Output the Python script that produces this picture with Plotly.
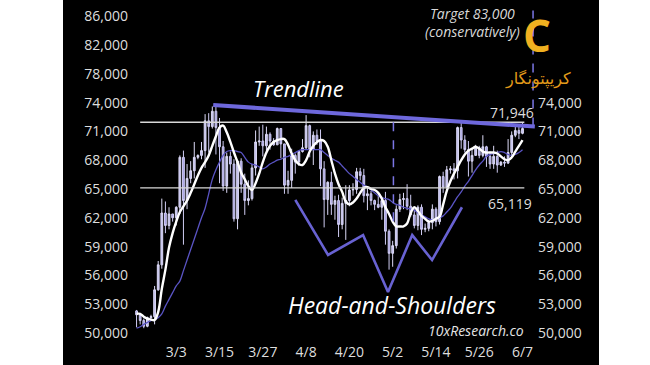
import pandas as pd
import plotly.graph_objects as go

# ---------------- data (prices in thousands USD) ----------------
dates = pd.date_range("2024-02-21", "2024-06-07", freq="D")

opens = [52.3, 51.9, 51.3, 50.7, 51.6, 51.7, 54.5, 57.1, 62.5,
         61.2, 62.4, 62.0, 63.1, 68.3, 63.8, 66.1, 66.9, 68.3, 68.5, 69.0, 72.1, 71.5, 73.1, 71.4, 69.4, 65.3, 68.4, 67.6, 61.9, 67.9, 65.5, 63.8, 64.0, 67.2, 69.9, 70.0, 69.5, 70.7, 70.0, 69.6,
         71.3, 69.7, 65.4, 65.9, 68.5, 67.8, 68.9, 69.3, 71.6, 69.1, 70.6, 70.0, 67.1, 63.9, 65.7, 63.4, 63.8, 61.3, 63.5, 63.8, 64.9, 64.95, 66.8, 66.4, 64.3, 64.5, 63.8, 63.4, 63.1, 63.8,
         60.6, 58.3, 59.1, 62.9, 63.9, 64.0, 63.2, 62.3, 61.2, 63.1, 60.8, 60.9, 61.5, 62.9, 61.6, 66.3, 65.2, 67.0, 67.1, 66.9, 71.4, 70.1, 69.1, 67.9, 68.5, 69.3, 68.5, 69.4, 68.4, 67.6, 68.4,
         67.5, 67.8, 67.7, 68.8, 70.6, 71.1, 70.8]
highs = [52.4, 52.0, 51.5, 51.7, 51.9, 54.9, 57.5, 64.0, 63.7,
         63.1, 62.4, 63.2, 68.5, 69.0, 67.6, 67.9, 69.9, 68.6, 69.9, 72.8, 72.9, 73.6, 73.8, 72.4, 70.0, 68.8, 68.9, 68.1, 68.0, 68.2, 66.6, 65.9, 67.6, 71.1, 71.5, 71.7, 71.5, 70.9, 70.3, 71.4,
         71.3, 69.7, 66.9, 69.2, 68.7, 69.0, 70.2, 72.7, 71.7, 71.0, 71.2, 71.2, 67.9, 65.8, 66.8, 64.3, 64.4, 64.1, 65.4, 65.4, 65.6, 67.2, 67.2, 67.1, 65.3, 64.8, 63.9, 64.3, 64.2, 64.7,
         60.8, 59.6, 63.3, 64.5, 64.6, 65.5, 64.4, 62.9, 63.3, 63.4, 61.4, 61.8, 63.4, 63.1, 66.4, 66.8, 67.4, 67.4, 67.7, 71.5, 71.9, 70.6, 70.0, 69.2, 69.6, 69.5, 70.6, 69.5, 68.9, 69.5, 69.0,
         67.9, 68.4, 70.2, 71.0, 71.7, 71.6, 71.9]
lows = [50.6, 50.9, 50.5, 50.6, 51.3, 50.9, 54.4, 56.7, 60.4,
        60.8, 61.6, 61.2, 62.4, 59.2, 62.9, 65.6, 66.1, 68.1, 68.1, 67.2, 68.8, 71.3, 68.6, 65.6, 64.8, 64.6, 66.6, 61.6, 60.8, 64.6, 62.3, 63.3, 63.8, 66.4, 69.5, 68.4, 68.9, 69.1, 69.5, 69.6,
        68.2, 64.5, 64.5, 65.1, 66.6, 67.4, 68.8, 69.1, 68.3, 67.5, 69.6, 65.3, 61.0, 62.3, 62.3, 61.8, 60.0, 60.8, 59.7, 63.2, 64.3, 64.5, 65.9, 63.6, 62.8, 63.3, 62.8, 63.0, 61.8, 59.2,
        56.6, 56.9, 58.8, 62.6, 62.9, 62.8, 62.1, 60.9, 60.7, 60.2, 60.5, 60.6, 60.8, 61.1, 61.3, 64.6, 65.1, 66.6, 66.0, 66.1, 69.2, 68.8, 66.3, 66.7, 68.5, 68.2, 68.3, 67.3, 67.1, 67.1, 66.7,
        67.4, 67.3, 67.6, 68.5, 70.4, 70.2, 70.7]
closes = [51.9, 51.3, 50.7, 51.6, 51.7, 54.5, 57.1, 62.5, 61.2,
          62.4, 62.0, 63.1, 68.3, 63.8, 66.1, 66.9, 68.3, 68.5, 69.0, 72.1, 71.5, 73.1, 71.4, 69.4, 65.3, 68.4, 67.6, 61.9, 67.9, 65.5, 63.8, 64.0, 67.2, 69.9, 70.0, 69.5, 70.7, 70.0, 69.6, 71.3,
          69.7, 65.4, 65.9, 68.5, 67.8, 68.9, 69.3, 71.6, 69.1, 70.6, 70.0, 67.1, 63.9, 65.7, 63.4, 63.8, 61.3, 63.5, 63.8, 64.9, 64.95, 66.8, 66.4, 64.3, 64.5, 63.8, 63.4, 63.1, 63.8, 60.6,
          58.3, 59.1, 62.9, 63.9, 64.0, 63.2, 62.3, 61.2, 63.1, 60.8, 60.9, 61.5, 62.9, 61.6, 66.3, 65.2, 67.0, 67.1, 66.9, 71.4, 70.1, 69.1, 67.9, 68.5, 69.3, 68.5, 69.4, 68.4, 67.6, 68.4, 67.5,
          67.8, 67.7, 68.8, 70.6, 71.1, 70.8, 71.3]

fast_ma = [52.0, 52.0, 51.7, 51.5, 51.4, 51.35, 52.2, 54.6, 56.6,
           58.9, 60.4, 61.6, 62.6, 63.2, 63.8, 64.6, 65.5, 66.4, 67.2, 67.8, 68.5, 69.5, 70.5, 71.4, 71.6, 70.9, 69.9, 68.8, 67.8, 66.7, 66.0, 65.3, 64.9, 65.6, 66.6, 67.8, 68.8, 69.5, 69.9, 70.1,
           70.2, 70.2, 69.6, 68.7, 68.0, 67.6, 67.5, 68.0, 68.9, 69.5, 69.9, 70.1, 70.0, 69.4, 68.0, 66.6, 65.5, 64.7, 63.7, 63.4, 63.6, 64.0, 64.6, 65.1, 65.2, 65.0, 64.9, 64.6, 64.0, 63.1,
           62.4, 61.6, 61.1, 61.1, 61.1, 61.4, 62.5, 63.1, 62.7, 62.2, 61.9, 61.6, 61.7, 61.9, 62.1, 63.4, 64.8, 65.8, 66.6, 67.3, 68.0, 68.6, 69.0, 69.2, 69.4, 69.2, 68.9, 68.8, 68.8, 68.8, 68.7,
           68.4, 68.1, 68.0, 68.3, 68.9, 69.5, 70.1]
slow_ma = [50.5, 50.65, 50.9, 51.1, 51.3, 51.4, 51.6, 52.0, 52.8,
           53.5, 54.2, 54.9, 55.4, 56.5, 57.6, 58.7, 59.8, 60.9, 62.0, 63.0, 64.5, 66.0, 67.0, 67.8, 68.5, 68.9, 69.0, 69.0, 68.9, 68.8, 68.3, 67.8, 67.6, 67.5, 67.3, 67.1, 67.3, 67.6, 67.8, 68.0,
           68.1, 68.3, 68.4, 68.6, 68.8, 69.0, 69.1, 69.1, 69.1, 69.1, 69.1, 69.1, 68.8, 68.5, 68.2, 68.0, 67.8, 67.4, 67.0, 66.6, 66.3, 66.0, 65.7, 65.4, 65.2, 64.9, 64.6, 64.3, 64.1, 64.0,
           63.9, 63.6, 63.4, 63.3, 63.1, 63.0, 62.9, 62.8, 62.5, 62.3, 62.1, 61.9, 61.8, 61.9, 62.0, 62.2, 62.6, 63.0, 63.6, 64.2, 64.7, 65.3, 65.8, 66.4, 67.0, 67.5, 67.9, 68.4, 68.6, 68.7, 68.8,
           68.9, 68.8, 68.6, 68.5, 68.6, 68.8, 69.1]

level_dates = ["2024-02-22", "2024-06-07 12:00"]
resistance = 71.946
support = 65.119

trend_dates = ["2024-03-13 06:00", "2024-06-10 10:00"]
trend_vals = [73.75, 71.5]

hs_dates = ["2024-04-05", "2024-04-14 02:00", "2024-04-23 19:00", "2024-04-30 17:00",
            "2024-05-07 10:00", "2024-05-12 22:00", "2024-05-21 05:00"]
hs_vals = [63.86, 58.13, 60.2, 54.27, 60.2, 57.6, 63.1]

head_date = "2024-05-02 05:00"
head_vals = [71.946, 61.1]
target_date = "2024-06-09 22:00"
target_vals = [71.5, 83.6]

tick_vals = [50, 53, 56, 59, 62, 65, 68, 71, 74, 77, 80, 83]
tick_text = ["50,000", "53,000", "56,000", "59,000", "62,000", "65,000", "68,000",
             "71,000", "74,000", "78,000", "82,000", "86,000"]
right_tick_vals = [50, 53, 56, 59, 62, 65, 68, 71, 74]
right_tick_text = ["50,000", "53,000", "56,000", "59,000", "62,000", "65,000", "68,000",
                   "71,000", "74,000"]
x_tick_vals = ["2024-03-03", "2024-03-15", "2024-03-27", "2024-04-08", "2024-04-20",
               "2024-05-02", "2024-05-14", "2024-05-26", "2024-06-07"]
x_tick_text = ["3/3", "3/15", "3/27", "4/8", "4/20", "5/2", "5/14", "5/26", "6/7"]

# ---------------- figure ----------------
W, H = 650, 365
L, R, T, B = 131, 115, 0, 25
pw = W - L - R
ph = H - T - B

fig = go.Figure()

fig.add_trace(go.Candlestick(
    x=dates, open=opens, high=highs, low=lows, close=closes,
    increasing=dict(line=dict(color="#dcdaf6", width=1), fillcolor="#c0bdee"),
    decreasing=dict(line=dict(color="#cfccf2", width=1), fillcolor="#a29de2"),
    whiskerwidth=0, showlegend=False, hoverinfo="skip"))

fig.add_trace(go.Scatter(x=dates, y=slow_ma, mode="lines",
                         line=dict(color="#5a54c4", width=1.3, shape="spline"), showlegend=False))
fig.add_trace(go.Scatter(x=dates, y=fast_ma, mode="lines",
                         line=dict(color="#ffffff", width=2.4, shape="spline"), showlegend=False))

for lv in (resistance, support):
    fig.add_trace(go.Scatter(x=level_dates, y=[lv, lv], mode="lines",
                             line=dict(color="#d8d8d8", width=1.4), showlegend=False))

fig.add_trace(go.Scatter(x=[head_date, head_date], y=head_vals, mode="lines",
                         line=dict(color="#7b76e4", width=1.5, dash="dash"), showlegend=False))
fig.add_trace(go.Scatter(x=[target_date, target_date], y=target_vals, mode="lines",
                         line=dict(color="#7b76e4", width=1.5, dash="dash"), showlegend=False))

fig.add_trace(go.Scatter(x=hs_dates, y=hs_vals, mode="lines",
                         line=dict(color="#6862d2", width=2.6), showlegend=False))
fig.add_trace(go.Scatter(x=trend_dates, y=trend_vals, mode="lines",
                         line=dict(color="#6e68dc", width=4), showlegend=False, cliponaxis=False))

# dummy trace for the right axis
fig.add_trace(go.Scatter(x=[dates[0]], y=[50], yaxis="y2", mode="markers",
                         marker=dict(opacity=0), showlegend=False, hoverinfo="skip"))

yr = [49.271, 84.687]
font_fam = "Open Sans"
fig.update_layout(
    width=W, height=H,
    margin=dict(l=L, r=R, t=T, b=B),
    paper_bgcolor="#ffffff", plot_bgcolor="#000000",
    showlegend=False,
    font=dict(family=font_fam, color="#dedede", size=14),
    xaxis=dict(type="date", range=["2024-02-19 11:00", "2024-06-10 11:00"],
               tickvals=x_tick_vals, ticktext=x_tick_text, showgrid=False, zeroline=False,
               showline=False, rangeslider=dict(visible=False), tickfont=dict(size=14, color="#dedede"),
               ticks="", ticklabelstandoff=2),
    yaxis=dict(range=yr, tickvals=tick_vals, ticktext=tick_text, showgrid=False, zeroline=False,
               showline=False, ticks="", tickfont=dict(size=14, color="#dedede"), ticklabelstandoff=2),
    yaxis2=dict(range=yr, tickvals=right_tick_vals, ticktext=right_tick_text, showgrid=False,
                zeroline=False, showline=False, ticks="", overlaying="y", side="right",
                tickfont=dict(size=14, color="#dedede"), ticklabelstandoff=2),
)

# black panel behind everything
x0 = (63 - L) / pw
x1 = (599 - L) / pw
fig.add_shape(type="rect", xref="paper", yref="paper", x0=x0, x1=x1, y0=-0.2, y1=1.05,
              fillcolor="#000000", line=dict(width=0), layer="below")

def ann(x, y, text, size, color="#ffffff", italic=False, family=font_fam, xref="x", yref="y"):
    fig.add_annotation(x=x, y=y, text=text, showarrow=False, xanchor="center", yanchor="middle",
                       xref=xref, yref=yref,
                       font=dict(size=size, color=color, family=family,
                                 style="italic" if italic else "normal"))

ann("2024-04-05 19:00", 75.52, "Trendline", 22, italic=True)
ann("2024-05-01 20:00", 52.92, "Head-and-Shoulders", 23, italic=True)
ann("2024-05-25 02:00", 50.31, "10xResearch.co", 14, color="#e4e4e4", italic=True)
ann("2024-06-04 02:00", 73.02, "71,946", 14, color="#dedede")
ann("2024-06-03 12:00", 63.54, "65,119", 14, color="#dedede")
ann("2024-05-24 00:00", 82.35, "Target 83,000<br>(conservatively)", 14, color="#d8d8d8", italic=True)
ann((537 - L) / pw, (ph - 35) / ph, "<b>C</b>", 44, color="#f0b020", xref="paper", yref="paper")
ann((538 - L) / pw, (ph - 79) / ph, "کریپتونگار", 16, color="#e39b1a", family="DejaVu Sans",
    xref="paper", yref="paper")

fig.write_html("out.html")
